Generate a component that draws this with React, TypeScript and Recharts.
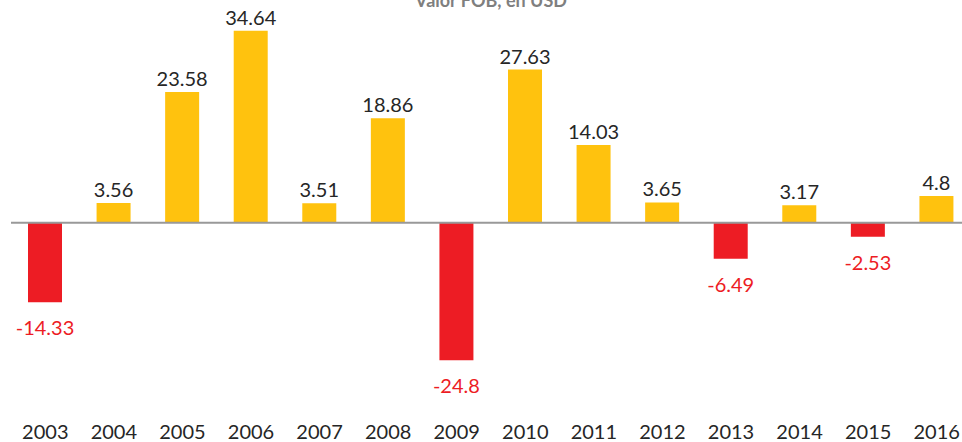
import React from 'react';
import { BarChart, Bar, XAxis, YAxis, Cell, ReferenceLine, LabelList } from 'recharts';

const years = ['2003','2004','2005','2006','2007','2008','2009','2010','2011','2012','2013','2014','2015','2016'];
const values = [-14.33, 3.56, 23.58, 34.64, 3.51, 18.86, -24.8, 27.63, 14.03, 3.65, -6.49, 3.17, -2.53, 4.8];
const title = 'Valor FOB, en USD';

const data = years.map((y, i) => ({ year: y, value: values[i] }));

const POS = '#FFC20E';
const NEG = '#ED1C24';
const FONT = 'Lato, "Open Sans", sans-serif';

const ValueLabel = (props: any) => {
  const { x, y, width, height, value } = props;
  const top = Math.min(y, y + height);
  const bottom = Math.max(y, y + height);
  const cx = x + width / 2;
  if (value < 0) {
    return (
      <text x={cx} y={bottom + 25} textAnchor="middle" dominantBaseline="central" fill={NEG} fontSize={20} fontFamily={FONT}>
        {value}
      </text>
    );
  }
  return (
    <text x={cx} y={top - 14} textAnchor="middle" dominantBaseline="central" fill="#262626" fontSize={20} fontFamily={FONT}>
      {value}
    </text>
  );
};

const YearTick = (props: any) => {
  const { x, payload } = props;
  return (
    <text x={x} y={431} textAnchor="middle" dominantBaseline="central" fill="#262626" fontSize={20} fontFamily={FONT}>
      {payload.value}
    </text>
  );
};

export default function App() {
  return (
    <div style={{ position: 'absolute', left: 0, top: 0, width: 962, height: 442, overflow: 'hidden', background: '#fff' }}>
      <BarChart width={981} height={442} data={data} margin={{ top: 1, right: 10, bottom: 0, left: 11 }}>
        <text x={491} y={7} textAnchor="middle" fill="#7F7F7F" fontSize={18} fontWeight="bold" fontFamily={FONT}>{title}</text>
        <XAxis dataKey="year" axisLine={false} tickLine={false} tick={<YearTick />} interval={0} height={53} />
        <YAxis hide type="number" domain={[-30, 40]} ticks={[-30, -20, -10, 0, 10, 20, 30, 40]} allowDataOverflow />
        <ReferenceLine y={0} stroke="#999999" strokeWidth={2} />
        <Bar dataKey="value" isAnimationActive={false} barSize={34}>
          {data.map((d, i) => (
            <Cell key={i} fill={d.value < 0 ? NEG : POS} />
          ))}
          <LabelList dataKey="value" content={<ValueLabel />} />
        </Bar>
      </BarChart>
    </div>
  );
}
